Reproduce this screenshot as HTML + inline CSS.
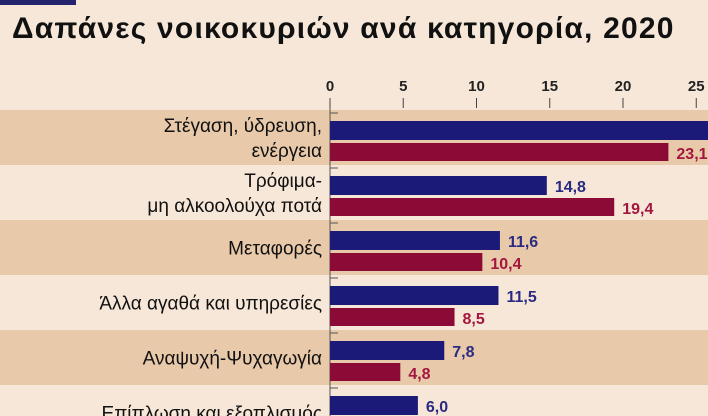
<!DOCTYPE html>
<html><head><meta charset="utf-8"><style>
body{margin:0;width:708px;height:416px;overflow:hidden;background:#f6e7d8;font-family:"Liberation Sans","DejaVu Sans",sans-serif;position:relative}
</style></head><body>
<div style="position:absolute;left:0;top:0;width:76px;height:5px;background:#23236e"></div>
<div style="position:absolute;left:12px;top:12px;font-size:30px;font-weight:bold;color:#111;letter-spacing:1.2px;white-space:nowrap">Δαπάνες νοικοκυριών ανά κατηγορία, 2020</div>
<svg id="chart" width="708" height="416" style="position:absolute;left:0;top:0;overflow:hidden"></svg>
<script>
const categories=[["Στέγαση, ύδρευση,","ενέργεια"],["Τρόφιμα-","μη αλκοολούχα ποτά"],["Μεταφορές"],["Άλλα αγαθά και υπηρεσίες"],["Αναψυχή-Ψυχαγωγία"],["Επίπλωση και εξοπλισμός"]];
const seriesBlue=[27.9,14.8,11.6,11.5,7.8,6.0];
const seriesRed=[23.1,19.4,10.4,8.5,4.8,3.0];
const ticks=[0,5,10,15,20,25];
const NS="http://www.w3.org/2000/svg",svg=document.getElementById('chart');
const x0=330,k=14.65,rowTop=110,rowH=55;
const xs=v=>x0+v*k;
function mk(t,a){const e=document.createElementNS(NS,t);for(const n in a)e.setAttribute(n,a[n]);svg.appendChild(e);return e;}
categories.forEach((c,i)=>{
 const y=rowTop+i*rowH;
 if(i%2===0){const r=mk('rect',{x:0,y:y,width:708,height:rowH,fill:'#e8c9a9'});
 
 }
});
ticks.forEach(t=>{
 const tx=mk('text',{x:xs(t),y:91,'text-anchor':'middle','font-size':15,'font-weight':'bold',fill:'#222'});tx.textContent=t;
 
 
 const l=mk('line',{x1:xs(t),x2:xs(t),y1:98,y2:108,stroke:'#444','stroke-width':1});
 
 
});
const ax=mk('line',{x1:x0,x2:x0,y1:108,y2:416,stroke:'#555','stroke-width':1});


categories.forEach((c,i)=>{
 const y=rowTop+i*rowH;
 const tk=mk('line',{x1:x0,x2:x0+8,y1:y+3,y2:y+3,stroke:'#555'});
 
 
 const lines=c;const cy=y+rowH/2;
 lines.forEach((s,j)=>{
  const t=mk('text',{x:322,y:cy+7+(j-(lines.length-1)/2)*25,'text-anchor':'end','font-size':19,fill:'#111'});t.textContent=s;
  
  
 });
 const b=mk('rect',{x:x0,y:y+11,width:xs(seriesBlue[i])-x0,height:19,fill:'#1b1a78'});
 
 
 const r=mk('rect',{x:x0,y:y+33,width:xs(seriesRed[i])-x0,height:18,fill:'#8c0a36'});
 
 
 const bl=mk('text',{x:xs(seriesBlue[i])+8,y:y+27,'font-size':16,'font-weight':'bold',fill:'#2b2a82'});bl.textContent=seriesBlue[i].toFixed(1).replace('.',',');
 
 
 const rl=mk('text',{x:xs(seriesRed[i])+8,y:y+49,'font-size':16,'font-weight':'bold',fill:'#a3163e'});rl.textContent=seriesRed[i].toFixed(1).replace('.',',');
 
 
});
</script>
</body></html>
